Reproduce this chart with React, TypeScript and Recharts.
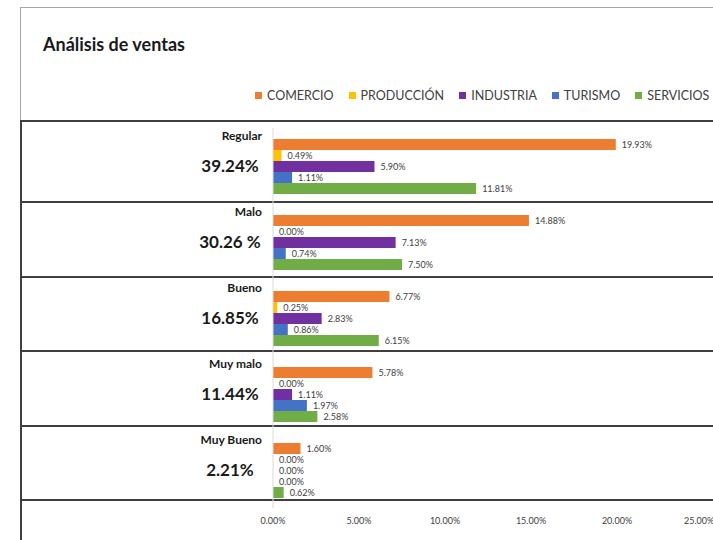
import { BarChart, Bar, XAxis, YAxis, LabelList } from 'recharts';

// rating categories and the share of each sector inside them (%)
const categories = ['Regular', 'Malo', 'Bueno', 'Muy malo', 'Muy Bueno'];
const categoryTotals = ['39.24%', '30.26 %', '16.85%', '11.44%', '2.21%'];
const comercio = [19.93, 14.88, 6.77, 5.78, 1.6];
const produccion = [0.49, 0.0, 0.25, 0.0, 0.0];
const industria = [5.9, 7.13, 2.83, 1.11, 0.0];
const turismo = [1.11, 0.74, 0.86, 1.97, 0.0];
const servicios = [11.81, 7.5, 6.15, 2.58, 0.62];
const xTicks = [0, 5, 10, 15, 20, 25];

const seriesNames = ['COMERCIO', 'PRODUCCIÓN', 'INDUSTRIA', 'TURISMO', 'SERVICIOS'];
const seriesValues = [comercio, produccion, industria, turismo, servicios];
const colors = ['#ED7D31', '#FFC000', '#7030A0', '#4472C4', '#70AD47'];

// lines of the table that sits behind the chart
const rowLines = [120, 201, 276, 350, 425, 499];

const FONT = 'Lato, "Open Sans", sans-serif';

const data = categories.map((cat, i) => {
  const row: any = { cat, total: categoryTotals[i] };
  seriesNames.forEach((name, s) => {
    row[name] = seriesValues[s][i];
  });
  return row;
});

const pct = (v: any) => Number(v).toFixed(2) + '%';

const CategoryTick = (props: any) => {
  const { x, y, payload, index } = props;
  return (
    <g>
      <text x={x - 11} y={y - 26} textAnchor="end" fontSize={12} fontWeight="bold" fill="#1a1a1a" fontFamily={FONT}>
        {payload.value}
      </text>
      <text x={x - 43} y={y + 6} textAnchor="middle" fontSize={17} fontWeight="bold" fill="#1a1a1a" fontFamily={FONT}>
        {categoryTotals[index]}
      </text>
    </g>
  );
};

// value label drawn for every bar, including the zero ones
const ValueLabel = (props: any) => {
  const { x, y, width, height, value } = props;
  return (
    <text x={x + (width || 0) + 6} y={y + height / 2} dy="0.35em" fontSize={9} fill="#404040" fontFamily={FONT}>
      {pct(value)}
    </text>
  );
};

const App = () => {
  return (
    <div style={{ position: 'fixed', left: 0, top: 0, width: 713, height: 540, background: '#fff', overflow: 'hidden', fontFamily: FONT }}>
      {/* chart frame */}
      <div style={{ position: 'absolute', left: 20, top: 7, width: 800, height: 600, borderTop: '1px solid #a6a6a6', borderLeft: '1px solid #a6a6a6' }} />
      <div style={{ position: 'absolute', left: 20, top: 120, width: 2, height: 420, background: '#3f3f3f' }} />
      {rowLines.map((y) => (
        <div key={y} style={{ position: 'absolute', left: 20, top: y, width: 700, height: 2, background: '#3f3f3f' }} />
      ))}
      <div style={{ position: 'absolute', left: 43, top: 33, fontSize: 18, fontWeight: 'bold', color: '#1a1a1a' }}>
        Análisis de ventas
      </div>
      {/* legend */}
      <div style={{ position: 'absolute', left: 255, top: 88, display: 'flex', gap: 15, fontSize: 12.5, color: '#404040', whiteSpace: 'nowrap' }}>
        {seriesNames.map((name, i) => (
          <div key={name} style={{ display: 'flex', alignItems: 'center' }}>
            <span style={{ width: 7, height: 7, background: colors[i], marginRight: 5, display: 'inline-block' }} />
            <span>{name}</span>
          </div>
        ))}
      </div>
      <div style={{ position: 'absolute', left: 0, top: 0 }}>
        <BarChart
          width={713}
          height={540}
          data={data}
          layout="vertical"
          margin={{ top: 128, right: 10, bottom: 0, left: 0 }}
          barGap={0}
          barSize={11}
        >
          <XAxis
            type="number"
            domain={[0, 25]}
            ticks={xTicks}
            tickFormatter={pct}
            axisLine={false}
            tickLine={false}
            height={32}
            tickSize={0}
            tickMargin={10}
            tick={{ fontSize: 9, fill: '#404040', fontFamily: FONT }}
          />
          <YAxis
            type="category"
            dataKey="cat"
            width={273}
            axisLine={{ stroke: '#d9d9d9' }}
            tickLine={false}
            tickSize={0}
            tickMargin={0}
            tick={<CategoryTick />}
          />
          {seriesNames.map((name, i) => (
            <Bar key={name} dataKey={name} name={name} fill={colors[i]} minPointSize={0.01} isAnimationActive={false}>
              <LabelList dataKey={name} content={<ValueLabel />} />
            </Bar>
          ))}
        </BarChart>
      </div>
    </div>
  );
};

export default App;
